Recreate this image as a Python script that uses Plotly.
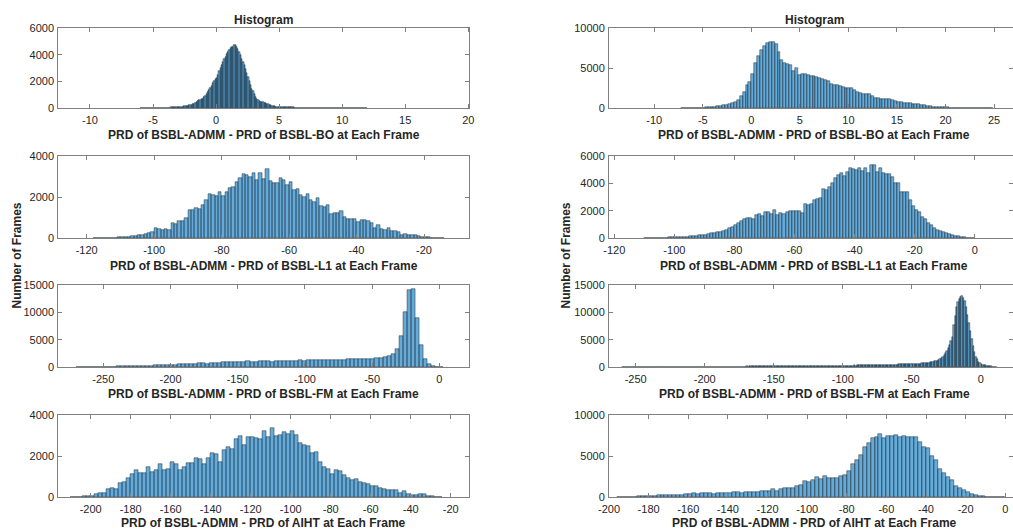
import plotly.graph_objects as go

# ---------------- DATA (bin start, bin width, counts per bin) ----------------
# Left column
bo_left_start, bo_left_width = -6.0, 0.1
bo_left_counts = [
    5, 5, 8, 6, 8, 10, 8, 10, 12, 10,
    12, 15, 12, 15, 18, 15, 18, 20, 22, 20,
    28, 30, 33, 36, 40, 44, 48, 52, 58, 64,
    70, 80, 90, 100, 115, 130, 150, 170, 200, 230,
    260, 290, 330, 390, 470, 530, 580, 610, 640, 700,
    800, 880, 1050, 1200, 1350, 1500, 1680, 1850, 2000, 2150,
    2250, 2500, 2750, 3000, 3250, 3450, 3650, 3850, 4050, 4200,
    4350, 4500, 4550, 4600, 4700, 4750, 4600, 4400, 4200, 3950,
    3700, 3450, 3200, 2950, 2650, 2300, 2000, 1700, 1450, 1250,
    1050, 850, 700, 580, 500, 450, 430, 420, 400, 370,
    330, 290, 250, 210, 180, 150, 130, 110, 95, 85,
    75, 70, 65, 60, 55, 52, 50, 48, 45, 42,
    40, 38, 36, 35, 34, 32, 30, 30, 28, 28,
    27, 26, 25, 25, 24, 23, 22, 22, 21, 20,
    20, 19, 18, 18, 17, 16, 16, 15, 15, 14,
    14, 13, 13, 12, 12, 11, 11, 10, 10, 10,
    9, 9, 8, 8, 8, 7, 7, 6, 6, 6,
    5, 5, 5, 4, 4, 4, 3, 3, 3, 2,
]

l1_left_start, l1_left_width = -118.0, 1.0
l1_left_counts = [
    5, 5, 8, 10, 12, 15, 20, 25, 35, 45,
    60, 90, 110, 130, 170, 210, 250, 300, 490, 420,
    410, 420, 410, 750, 700, 820, 830, 1000, 1390, 1390,
    1440, 1400, 1600, 1850, 2140, 2090, 2040, 2220, 2040, 2240,
    2420, 2500, 2710, 2940, 3100, 3070, 2960, 3150, 2820, 3150,
    2860, 3380, 2780, 2660, 2690, 2910, 2830, 2580, 2740, 2330,
    2370, 2090, 2010, 2170, 1850, 1760, 1930, 1550, 1520, 1600,
    1190, 1240, 1220, 1320, 1030, 910, 950, 950, 770, 870,
    870, 830, 730, 510, 620, 460, 410, 500, 330, 330,
    290, 130, 180, 160, 150, 130, 100, 60, 30, 25,
    20, 15, 10, 5,
]

fm_left_start, fm_left_width = -270.0, 3.0
fm_left_counts = [
    5, 8, 10, 15, 20, 25, 30, 40, 50, 60,
    100, 120, 130, 150, 180, 200, 230, 240, 270, 300,
    330, 360, 380, 400, 430, 460, 490, 550, 520, 600,
    700, 730, 600, 650, 730, 800, 850, 880, 910, 900,
    910, 950, 1030, 980, 970, 1030, 1150, 1030, 1000, 1090,
    1100, 1150, 1120, 1150, 1180, 1210, 1180, 1210, 1280, 1280,
    1250, 1280, 1300, 1280, 1340, 1300, 1280, 1460, 1400, 1380,
    1400, 1420, 1460, 1460, 1580, 1700, 1800, 2000, 2400, 3300,
    5700, 10000, 14000, 14300, 9000, 4000, 1500, 500, 150, 50,
    10,
]

aiht_left_start, aiht_left_width = -210.0, 2.0
aiht_left_counts = [
    5, 15, 20, 30, 50, 65, 130, 200, 210, 390,
    420, 410, 670, 730, 950, 1110, 1310, 1190, 1190, 1470,
    1220, 1310, 1600, 1340, 1390, 1730, 1600, 1310, 1470, 1680,
    1680, 1910, 1840, 1630, 1880, 2160, 2120, 1710, 2290, 2420,
    2320, 2820, 2990, 2560, 2910, 2940, 2890, 2810, 3230, 2940,
    3360, 2990, 3020, 3180, 3070, 3230, 3020, 2610, 2530, 2480,
    2170, 2190, 1710, 1470, 1360, 1140, 1310, 1260, 1090, 930,
    850, 900, 730, 700, 620, 520, 540, 440, 410, 360,
    330, 330, 210, 290, 130, 110, 80, 130, 130, 65,
    30, 15, 8,
]

# Right column
bo_right_start, bo_right_width = -7.2, 0.3
bo_right_counts = [
    10, 12, 15, 18, 22, 28, 35, 50, 80, 110,
    140, 170, 200, 250, 320, 400, 480, 620, 780, 1050,
    1500, 1950, 2850, 3300, 4300, 5600, 6500, 7300, 7800, 8150,
    8300, 8200, 7950, 7000, 6000, 5600, 5450, 5350, 4600, 5050,
    4150, 4300, 4250, 4100, 4000, 3950, 3850, 3750, 3650, 3550,
    3350, 3050, 2850, 2900, 2750, 2650, 2550, 2500, 2450, 2300,
    1950, 1850, 1800, 1750, 1700, 1550, 1300, 1250, 1150, 1150,
    1100, 1080, 1050, 850, 800, 750, 650, 600, 580, 550,
    500, 450, 400, 330, 280, 200, 180, 150, 120, 100,
    80, 70, 60, 50, 40, 35, 30, 25, 20, 18,
    15, 12, 10, 8, 6, 5, 4,
]

l1_right_start, l1_right_width = -110.0, 1.0
l1_right_counts = [
    5, 6, 8, 10, 15, 25, 30, 35, 42, 50,
    55, 60, 70, 85, 100, 120, 135, 150, 220, 200,
    250, 270, 370, 390, 410, 440, 510, 610, 760, 810,
    930, 1100, 1250, 1400, 1450, 1490, 1420, 1670, 1740, 1590,
    1890, 1890, 1740, 2080, 1670, 1840, 1790, 1890, 1950, 1960,
    1960, 1960, 1860, 2470, 2380, 2470, 2770, 2820, 2960, 3550,
    3500, 3750, 3990, 4360, 4600, 4780, 4530, 4850, 5090, 5050,
    4970, 5090, 4920, 5090, 4730, 5340, 5340, 4850, 5090, 4730,
    4680, 4680, 4480, 4040, 4040, 3400, 3380, 3380, 2770, 2330,
    2030, 1910, 1540, 1420, 1100, 930, 760, 610, 510, 440,
    380, 320, 245, 170, 120, 70, 50, 30, 18, 8,
]

fm_right_start, fm_right_width = -260.0, 1.0
fm_right_counts = [
    3, 2, 4, 3, 5, 4, 6, 7, 6, 9,
    8, 11, 10, 13, 12, 14, 15, 13, 17, 16,
    18, 17, 20, 22, 19, 23, 25, 22, 26, 28,
    27, 30, 29, 32, 35, 31, 34, 37, 33, 38,
    36, 40, 39, 42, 38, 44, 43, 46, 41, 47,
    45, 49, 52, 48, 53, 51, 55, 58, 54, 57,
    60, 56, 62, 65, 59, 64, 68, 63, 70, 66,
    69, 72, 67, 75, 73, 78, 71, 77, 80, 76,
    82, 79, 85, 83, 88, 81, 90, 86, 92, 89,
    94, 91, 97, 95, 100, 93, 103, 98, 106, 101,
    108, 104, 112, 107, 115, 110, 118, 113, 121, 116,
    124, 119, 127, 123, 131, 126, 134, 129, 138, 133,
    141, 136, 145, 140, 149, 144, 153, 147, 157, 151,
    160, 155, 165, 159, 170, 163, 175, 168, 180, 172,
    185, 178, 190, 183, 196, 188, 202, 194, 208, 199,
    214, 205, 221, 212, 228, 218, 235, 225, 242, 232,
    249, 240, 257, 247, 265, 255, 273, 262, 281, 270,
    290, 279, 299, 288, 308, 296, 317, 305, 326, 314,
    335, 323, 345, 332, 355, 342, 366, 352, 377, 363,
    388, 374, 399, 385, 410, 396, 422, 407, 434, 418,
    470, 490, 480, 500, 510, 495, 520, 530, 540, 550,
    560, 575, 590, 600, 610, 620, 640, 655, 670, 690,
    720, 760, 800, 860, 920, 1000, 1020, 1080, 1150, 1250,
    1400, 1600, 1850, 2200, 2600, 3000, 3500, 4000, 4700, 5500,
    7700, 9300, 10900, 11900, 12500, 12800, 12900, 12700, 12000, 11000,
    9500, 8000, 6600, 5200, 3900, 2700, 1900, 1400, 1000, 720,
    560, 450, 360, 290, 230, 190, 150, 120, 90, 70,
    50, 35,
]

aiht_right_start, aiht_right_width = -196.0, 2.0
aiht_right_counts = [
    5, 10, 20, 35, 60, 80, 110, 140, 160, 180,
    200, 240, 260, 290, 270, 240, 290, 330, 370, 450,
    410, 450, 430, 450, 410, 450, 450, 490, 530, 610,
    610, 530, 550, 570, 570, 610, 730, 730, 730, 980,
    730, 1020, 1100, 1140, 1140, 1310, 1510, 1920, 1840, 2040,
    2450, 2240, 2530, 2330, 2370, 2370, 2530, 2650, 3140, 4080,
    4570, 5100, 6040, 6610, 7140, 7350, 7670, 7220, 7430, 7430,
    7510, 7270, 7470, 7270, 7270, 7270, 6730, 6040, 5920, 5060,
    4490, 3470, 2950, 2400, 2040, 1350, 1140, 820, 610, 410,
    290, 160, 90, 60, 40, 25, 12, 5,
]

label_bo = "PRD of BSBL-ADMM - PRD of BSBL-BO at Each Frame"
label_l1 = "PRD of BSBL-ADMM - PRD of BSBL-L1 at Each Frame"
label_fm = "PRD of BSBL-ADMM - PRD of BSBL-FM at Each Frame"
label_aiht = "PRD of BSBL-ADMM - PRD of AIHT at Each Frame"
title_text = "Histogram"
ylabel_text = "Number of Frames"

# ---------------- LAYOUT / STYLE ----------------
W, H = 1013, 529
FONT = "Liberation Sans, Arial, Helvetica, sans-serif"
TXT = "#262626"
AXC = "#808080"

def px_x(p):
    return p / W

def px_y(p):
    return 1 - p / H

col_dom = [(58.3, 469.3), (609.0, 1013.0)]
row_dom = [(28, 108), (156, 238), (285, 367), (415, 497)]
label_y = [135, 265.7, 394, 523]
col_center = [263.7, 814.0]

panels = [
    # (row, col, start, width, counts, xrange, xticks, yrange, yticks, label)
    (0, 0, bo_left_start, bo_left_width, bo_left_counts, [-12.51, 20.08],
     list(range(-10, 21, 5)), [0, 6000], [0, 2000, 4000, 6000], label_bo),
    (1, 0, l1_left_start, l1_left_width, l1_left_counts, [-128.42, -6.57],
     list(range(-120, -19, 20)), [0, 4000], [0, 2000, 4000], label_l1),
    (2, 0, fm_left_start, fm_left_width, fm_left_counts, [-283.48, 22.32],
     list(range(-250, 1, 50)), [0, 15000], [0, 5000, 10000, 15000], label_fm),
    (3, 0, aiht_left_start, aiht_left_width, aiht_left_counts, [-216.2, -10.7],
     list(range(-200, -19, 20)), [0, 4000], [0, 2000, 4000], label_aiht),
    (0, 1, bo_right_start, bo_right_width, bo_right_counts, [-14.66, 26.95],
     list(range(-10, 26, 5)), [0, 10000], [0, 5000, 10000], label_bo),
    (1, 1, l1_right_start, l1_right_width, l1_right_counts, [-121.76, 12.74],
     list(range(-120, 1, 20)), [0, 6000], [0, 2000, 4000, 6000], label_l1),
    (2, 1, fm_right_start, fm_right_width, fm_right_counts, [-269.35, 23.33],
     list(range(-250, 1, 50)), [0, 15000], [0, 5000, 10000, 15000], label_fm),
    (3, 1, aiht_right_start, aiht_right_width, aiht_right_counts, [-200.0, 3.89],
     list(range(-200, 1, 20)), [0, 10000], [0, 5000, 10000], label_aiht),
]

fig = go.Figure()
layout = dict(
    width=W, height=H,
    margin=dict(l=0, r=0, t=0, b=0, pad=0, autoexpand=False),
    paper_bgcolor="white", plot_bgcolor="white",
    showlegend=False, bargap=0,
    font=dict(family=FONT, size=11, color=TXT),
)
annotations = []

for i, (r, c, start, width, counts, xr, xt, yr, yt, lab) in enumerate(panels):
    k = i + 1
    xa = "x" if k == 1 else f"x{k}"
    ya = "y" if k == 1 else f"y{k}"
    centers = [start + width * (j + 0.5) for j in range(len(counts))]
    fig.add_trace(go.Bar(
        x=centers, y=counts, width=width, xaxis=xa, yaxis=ya,
        marker=dict(color="rgba(0,114,189,0.6)",
                    line=dict(color="rgba(20,30,40,0.9)", width=0.5)),
        hoverinfo="x+y",
    ))
    x0, x1 = col_dom[c]
    y0, y1 = row_dom[r]
    common = dict(showgrid=False, zeroline=False, showline=True, linecolor=AXC,
                  linewidth=1, mirror="ticks", ticks="inside", ticklen=4,
                  tickwidth=1, tickcolor=AXC, automargin=False,
                  tickfont=dict(size=11, color=TXT, family=FONT))
    layout["xaxis" if k == 1 else f"xaxis{k}"] = dict(
        domain=[px_x(x0), px_x(x1)], range=xr, anchor=ya,
        tickmode="array", tickvals=xt, ticktext=[str(v) for v in xt],
        ticklabelstandoff=2, **common)
    layout["yaxis" if k == 1 else f"yaxis{k}"] = dict(
        domain=[px_y(y1), px_y(y0)], range=yr, anchor=xa,
        tickmode="array", tickvals=yt, ticktext=[str(v) for v in yt],
        ticklabelstandoff=1, **common)
    annotations.append(dict(
        text=f"<b>{lab}</b>", x=px_x(col_center[c]), y=px_y(label_y[r]),
        xref="paper", yref="paper", xanchor="center", yanchor="middle",
        showarrow=False, font=dict(size=12, color=TXT, family=FONT)))

for c in range(2):
    annotations.append(dict(
        text=f"<b>{title_text}</b>", x=px_x(col_center[c]), y=px_y(20),
        xref="paper", yref="paper", xanchor="center", yanchor="middle",
        showarrow=False, font=dict(size=12, color=TXT, family=FONT)))

for xpos in (16, 565):
    annotations.append(dict(
        text=f"<b>{ylabel_text}</b>", x=px_x(xpos), y=px_y(255.5),
        xref="paper", yref="paper", xanchor="center", yanchor="middle",
        textangle=-90, showarrow=False,
        font=dict(size=12, color=TXT, family=FONT)))

layout["annotations"] = annotations
fig.update_layout(**layout)
fig.write_html("out.html")
